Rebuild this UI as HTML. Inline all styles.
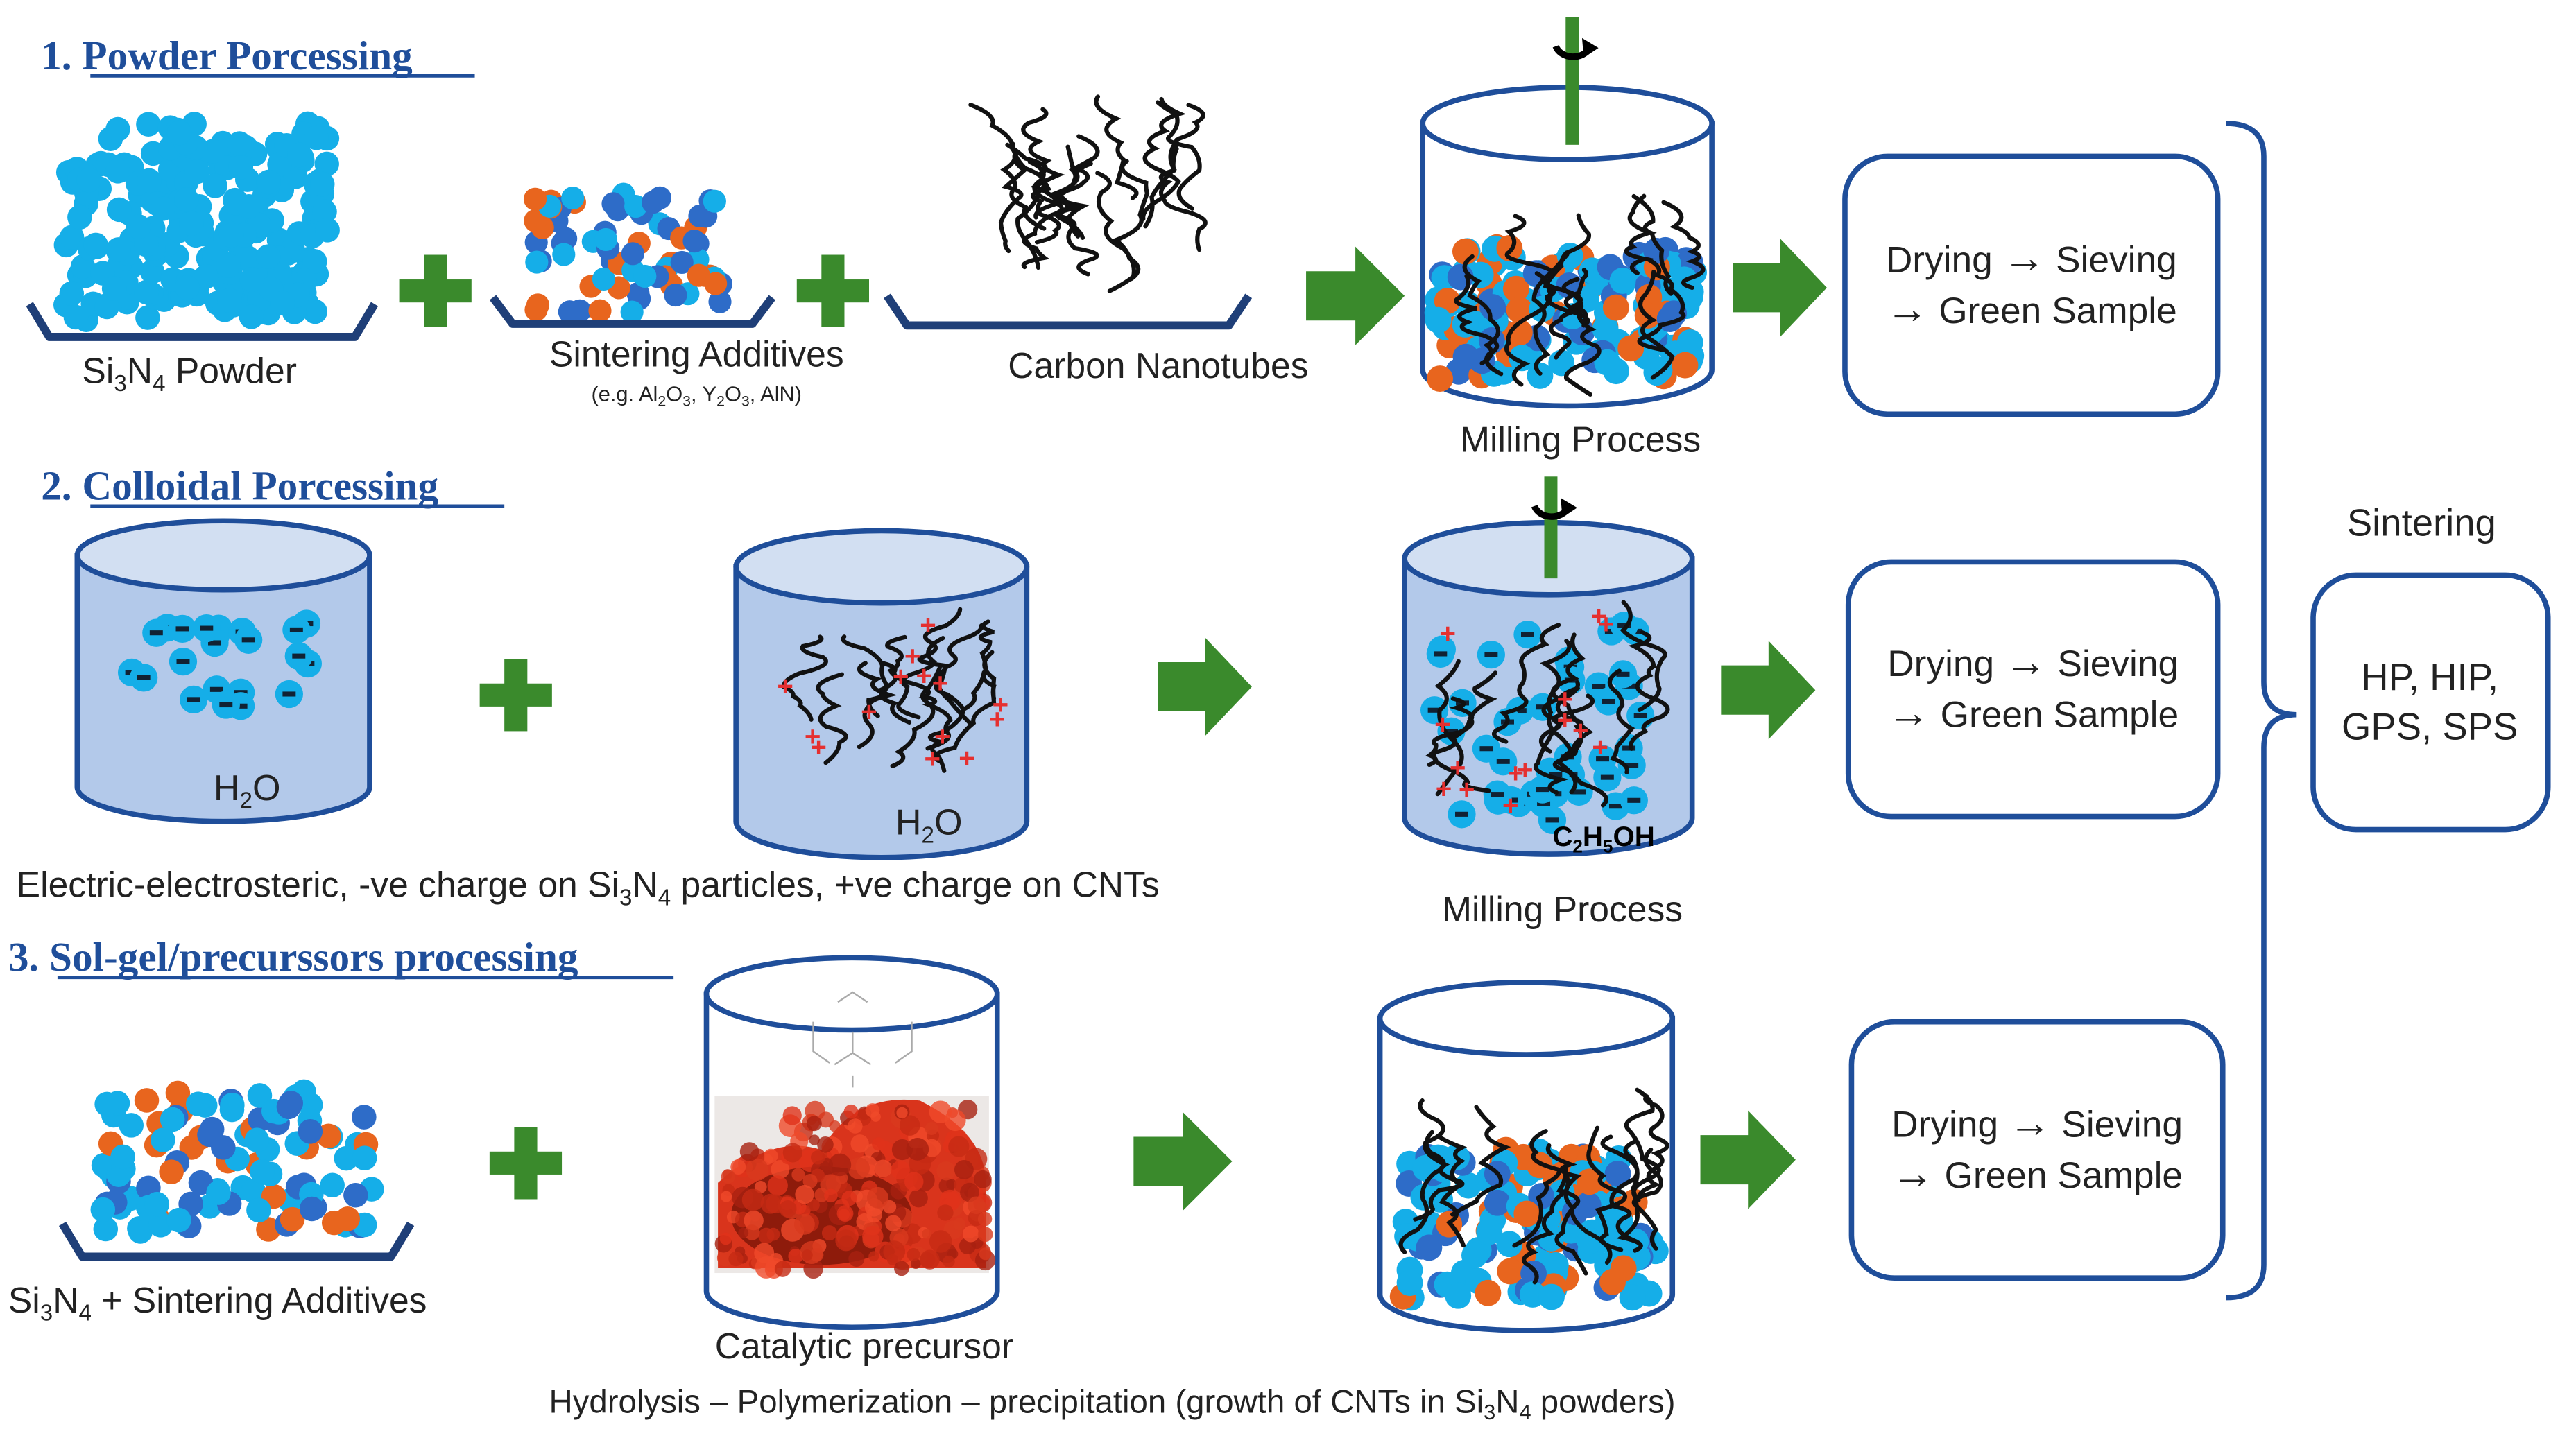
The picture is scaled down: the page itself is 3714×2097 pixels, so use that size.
<!DOCTYPE html>
<html><head><meta charset="utf-8"><style>
html,body{margin:0;padding:0;background:#fff;width:3714px;height:2097px;overflow:hidden}
svg{display:block}
text{font-family:"Liberation Sans","DejaVu Sans",sans-serif;fill:#222}
.t{font-family:"Liberation Serif",serif;font-weight:bold;fill:#1f4e9a;font-size:25px}
.l{font-size:21.8px}
.b{font-size:23px}
</style></head><body>
<svg id="s" width="3714" height="2097" viewBox="0 0 1568 885" xmlns="http://www.w3.org/2000/svg">
<text class="t" x="25" y="42">1. Powder Porcessing</text>
<text class="t" x="25" y="304">2. Colloidal Porcessing</text>
<text class="t" x="5" y="591">3. Sol-gel/precurssors processing</text>
<line x1="55" y1="46" x2="289" y2="46" stroke="#1f4e9a" stroke-width="2"/>
<line x1="55" y1="308" x2="307" y2="308" stroke="#1f4e9a" stroke-width="2"/>
<line x1="35" y1="595" x2="410" y2="595" stroke="#1f4e9a" stroke-width="2"/>

<g id="dyn"></g>

<text class="l" x="50" y="233">Si<tspan font-size="14" dy="5">3</tspan><tspan dy="-5">N</tspan><tspan font-size="14" dy="5">4</tspan><tspan dy="-5"> Powder</tspan></text>
<text class="l" x="424" y="223" text-anchor="middle">Sintering Additives</text>
<text x="424" y="244" text-anchor="middle" font-size="13">(e.g. Al<tspan font-size="9" dy="3">2</tspan><tspan dy="-3">O</tspan><tspan font-size="9" dy="3">3</tspan><tspan dy="-3">, Y</tspan><tspan font-size="9" dy="3">2</tspan><tspan dy="-3">O</tspan><tspan font-size="9" dy="3">3</tspan><tspan dy="-3">, AlN)</tspan></text>
<text class="l" x="705" y="230" text-anchor="middle">Carbon Nanotubes</text>
<text class="l" x="962" y="275" text-anchor="middle">Milling Process</text>
<text class="l" x="951" y="561" text-anchor="middle">Milling Process</text>
<text class="l" x="10" y="546">Electric-electrosteric, -ve charge on Si<tspan font-size="14" dy="5">3</tspan><tspan dy="-5">N</tspan><tspan font-size="14" dy="5">4</tspan><tspan dy="-5"> particles, +ve charge on CNTs</tspan></text>
<text class="l" x="5" y="799">Si<tspan font-size="14" dy="5">3</tspan><tspan dy="-5">N</tspan><tspan font-size="14" dy="5">4</tspan><tspan dy="-5"> + Sintering Additives</tspan></text>
<text class="l" x="526" y="827" text-anchor="middle">Catalytic precursor</text>
<text x="677" y="860" text-anchor="middle" font-size="20">Hydrolysis – Polymerization – precipitation (growth of CNTs in Si<tspan font-size="13" dy="4">3</tspan><tspan dy="-4">N</tspan><tspan font-size="13" dy="4">4</tspan><tspan dy="-4"> powders)</tspan></text>
<text class="b" x="1474" y="326" text-anchor="middle">Sintering</text>
<text class="b" x="1479" y="420" text-anchor="middle" font-size="21">HP, HIP,</text>
<text class="b" x="1479" y="450" text-anchor="middle" font-size="21">GPS, SPS</text>
</svg>
<script>
(function(){
var NS="http://www.w3.org/2000/svg";
var g=document.getElementById('dyn');
var seed=7;function r(){seed=(seed*16807)%2147483647;return (seed-1)/2147483646;}
function el(t,a,p){var e=document.createElementNS(NS,t);for(var k in a)e.setAttribute(k,a[k]);(p||g).appendChild(e);return e;}
var LB="#15aee8",DB="#2e6cc8",OR="#e8651e",NAVY="#1f4e9a",GR="#3a8a2c";
function blob(x0,x1,y0,y1,n,rad,cols,shape){
 for(var i=0;i<n;i++){var x=x0+r()*(x1-x0),y=y0+r()*(y1-y0);
  if(shape&&!shape(x,y))continue;
  var c=cols[Math.floor(r()*cols.length)];
  el('circle',{cx:x,cy:y,r:rad,fill:c});}
}
function cl(v,a,b){return v<a?a:(v>b?b:v);}
function cnt(x0,x1,y0,y1,n,plus){
 for(var i=0;i<n;i++){var x=x0+r()*(x1-x0),y=y0+r()*(y1-y0)*0.45;
  var d="M"+x.toFixed(1)+" "+y.toFixed(1);var segs=5+Math.floor(r()*3);var L=(y1-y0)*0.55/segs;
  for(var j=0;j<segs;j++){var nx=cl(x+(r()-0.5)*30,x0,x1),ny=cl(y+L*(0.5+r()*0.8),y0,y1);
   var cx=(x+nx)/2+(r()-0.5)*30,cy=(y+ny)/2;d+=" Q"+cx.toFixed(1)+" "+cy.toFixed(1)+" "+nx.toFixed(1)+" "+ny.toFixed(1);x=nx;y=ny;}
  el('path',{d:d,fill:"none",stroke:"#111","stroke-width":2.6,"stroke-linecap":"round"});
 }
 if(plus){for(var k=0;k<plus;k++){var px=x0+r()*(x1-x0),py=y0+10+r()*(y1-y0-10);
  el('text',{x:px,y:py,"font-size":17,style:"fill:#e53030;font-weight:bold"}).textContent="+";}}
}
function tray(x0,x1,y,h){el('path',{d:"M"+x0+" "+(y-h)+" L"+(x0+12)+" "+y+" L"+(x1-12)+" "+y+" L"+x1+" "+(y-h),fill:"none",stroke:"#1f3f78","stroke-width":5,"stroke-linejoin":"round"});}
function plus(cx,cy){el('rect',{x:cx-22,y:cy-7,width:44,height:14,fill:GR});el('rect',{x:cx-7,y:cy-22,width:14,height:44,fill:GR});}
function arrow(x,cy,w){var h=60;var s=w*0.5;el('polygon',{points:[x,cy-15,x+s,cy-15,x+s,cy-h/2,x+w,cy,x+s,cy+h/2,x+s,cy+15,x,cy+15].join(" "),fill:GR});}
function cyl(x0,x1,ty,by,ry,fill,tfill){var rx=(x1-x0)/2,cx=(x0+x1)/2;
 el('path',{d:"M"+x0+" "+ty+" L"+x0+" "+by+" A"+rx+" "+ry+" 0 0 0 "+x1+" "+by+" L"+x1+" "+ty+" Z",fill:fill,stroke:NAVY,"stroke-width":3.2});
 el('ellipse',{cx:cx,cy:ty,rx:rx,ry:ry,fill:tfill,stroke:NAVY,"stroke-width":3.2});}
function box(x0,y0,x1,y1){el('rect',{x:x0,y:y0,width:x1-x0,height:y1-y0,rx:26,fill:"#fff",stroke:NAVY,"stroke-width":3.2});
 var cx=(x0+x1)/2,cy=(y0+y1)/2;
 el('text',{x:cx,y:cy-8,"text-anchor":"middle","font-size":22.5}).innerHTML='Drying <tspan style="font-weight:bold;font-size:26px">\u2192</tspan> Sieving';
 el('text',{x:cx,y:cy+23,"text-anchor":"middle","font-size":22.5}).innerHTML='<tspan style="font-weight:bold;font-size:26px">\u2192</tspan> Green Sample';}
function rod(x,y0,y1){el('rect',{x:x-4,y:y0,width:8,height:y1-y0,fill:GR});
 el('path',{d:"M"+(x-10)+" "+(y0+18)+" A11 9 0 0 0 "+(x+10)+" "+(y0+20),fill:"none",stroke:"#000","stroke-width":4});
 el('polygon',{points:(x+6)+","+(y0+13)+" "+(x+16)+","+(y0+19)+" "+(x+7)+","+(y0+25),fill:"#000"});}
function charged(x0,x1,y0,y1,n){for(var i=0;i<n;i++){var x=x0+r()*(x1-x0),y=y0+r()*(y1-y0);
 el('circle',{cx:x,cy:y,r:8.5,fill:LB});el('rect',{x:x-4,y:y-1.5,width:8,height:3,fill:"#123"});}}

// Row 1
blob(40,200,75,195,230,7.5,[LB],function(x,y){return y>70+(x<60?30:0);});
tray(18,228,205,20);
plus(265,177);
blob(325,442,118,192,70,7,[LB,DB,OR,DB]);
tray(300,470,197,16);
plus(507,177);
cnt(578,730,58,190,16);
tray(540,760,198,18);
arrow(795,180,60);
cyl(866,1042,75,225,22,"#fff","#fff");
blob(875,1032,150,232,160,8,[LB,LB,LB,DB,OR]);
cnt(878,1030,115,240,13);
rod(957,10,88);
arrow(1055,175,57);
box(1123,95,1350,252);
el('path',{d:"M1355 75 Q1378 75 1378 95 L1378 415 Q1378 435 1398 435 Q1378 435 1378 455 L1378 770 Q1378 790 1355 790",fill:"none",stroke:NAVY,"stroke-width":3.2});
el('rect',{x:1408,y:350,width:143,height:155,rx:26,fill:"#fff",stroke:NAVY,"stroke-width":3.2});

// Row 2
cyl(47,225,338,479,21,"#b3c9ea","#d2dff2");
charged(78,190,378,432,22);
el('text',{x:130,y:487,"font-size":22}).innerHTML='H<tspan font-size="14" dy="5">2</tspan><tspan dy="-5">O</tspan>';
plus(314,423);
cyl(448,625,345,500,22,"#b3c9ea","#d2dff2");
cnt(465,605,358,475,13,14);
el('text',{x:545,y:508,"font-size":22}).innerHTML='H<tspan font-size="14" dy="5">2</tspan><tspan dy="-5">O</tspan>';
arrow(705,418,57);
cyl(855,1030,340,498,22,"#b3c9ea","#d2dff2");
charged(862,1000,380,500,45);
cnt(870,1022,365,500,12,14);
rod(944,290,352);
el('text',{x:945,y:515,"font-size":17,style:"font-weight:bold;fill:#000"}).innerHTML='C<tspan font-size="11" dy="4">2</tspan><tspan dy="-4">H</tspan><tspan font-size="11" dy="4">5</tspan><tspan dy="-4">OH</tspan>';
arrow(1048,420,57);
box(1125,342,1350,497);

// Row 3
blob(62,228,662,750,110,7.5,[LB,LB,DB,OR]);
tray(38,250,765,20);
plus(320,708);
cyl(430,607,605,786,22,"#fff","#fff");
var mg=el('g',{stroke:"#aaa","stroke-width":1,fill:"none"});
el('path',{d:"M510 610 L519 604 L528 610 M495 622 L495 640 L505 647 M545 647 L555 640 L555 622 M519 628 L519 641 L508 648 M519 641 L530 648 M519 655 L519 662"},mg);
el('rect',{x:435,y:667,width:167,height:108,fill:"#ece8e6"});
el('path',{d:"M437 720 Q470 690 500 700 Q520 665 560 670 Q600 690 600 720 L600 772 L437 772 Z",fill:"#d9341c"});
el('ellipse',{cx:500,cy:740,rx:55,ry:30,fill:"#8e1b0b"});
for(var i=0;i<260;i++){var px=440+r()*160,py=675+r()*98;if(py<700-(px>480&&px<590?30:0))continue;
 var cs=["#e0321a","#c62a14","#f04a2a","#a82010","#d83a1e"];el('circle',{cx:px,cy:py,r:3+r()*4,fill:cs[Math.floor(r()*5)],opacity:0.8});}
arrow(690,707,60);
cyl(840,1018,620,788,22,"#fff","#fff");
blob(850,1008,700,790,140,8,[LB,LB,LB,DB,OR]);
cnt(855,1008,662,795,14);
arrow(1035,706,58);
box(1127,622,1353,778);
})();
</script>
</body></html>
